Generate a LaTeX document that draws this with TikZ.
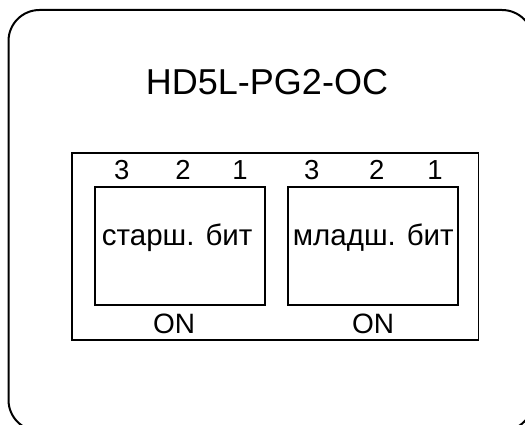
\documentclass[tikz,border=0pt]{standalone}
\usepackage{fontspec}
\setmainfont{Liberation Sans}
\begin{document}
\begin{tikzpicture}[x=1pt,y=-1pt,
  frame/.style={draw=black,line width=2pt},
  boxline/.style={draw=black,line width=1.8pt},
  digit/.style={anchor=base,inner sep=0pt,font=\fontsize{27.5}{30}\selectfont},
  ontext/.style={anchor=base,inner sep=0pt,font=\fontsize{28}{30}\selectfont},
  bittext/.style={anchor=base,inner sep=0pt,font=\fontsize{29.5}{31}\selectfont},
  titletext/.style={anchor=base,inner sep=0pt,font=\fontsize{36}{38}\selectfont}]
\useasboundingbox (0,0) rectangle (525,425);
\begin{scope}
\clip (0,0) rectangle (525,425);
\draw[frame,rounded corners=31pt] (8.5,10) rectangle (533,431);
\end{scope}
\node[titletext] (title) at (267,95) {HD5L-PG2-OC};
\draw[boxline] (71.7,152.7) rectangle (478.5,340.3);
\draw[boxline] (95,186.7) rectangle (265,305);
\draw[boxline] (288.3,186.7) rectangle (458.3,305);
\node[digit] (a3) at (121.7,179) {3};
\node[digit] (a2) at (183,179) {2};
\node[digit] (a1) at (240,179) {1};
\node[digit] (b3) at (311.7,179) {3};
\node[digit] (b2) at (376.7,179) {2};
\node[digit] (b1) at (435,179) {1};
\node[bittext] (hi) at (177.2,245) {старш. бит};
\node[bittext] (lo) at (373.3,245) {младш. бит};
\node[ontext] (on1) at (174,333) {ON};
\node[ontext] (on2) at (373,333) {ON};
\end{tikzpicture}
\end{document}
